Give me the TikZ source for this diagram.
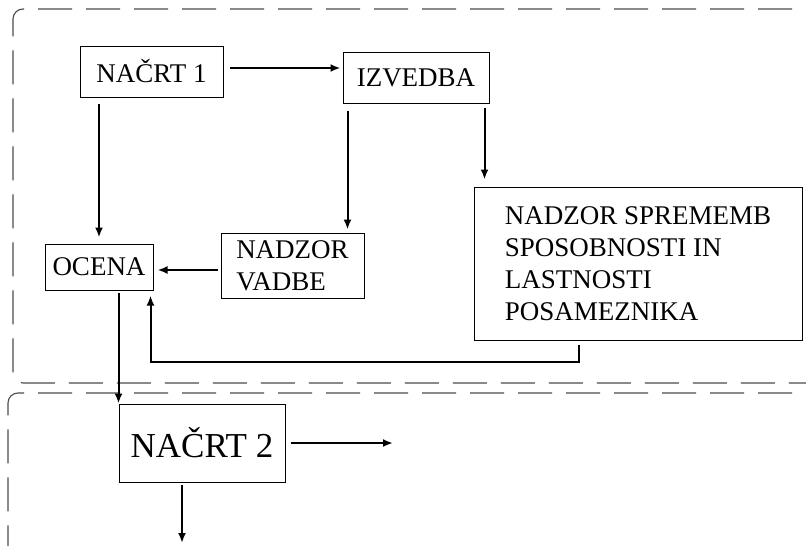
\documentclass[tikz,border=0pt]{standalone}
\usepackage{fontspec}
\setmainfont{Liberation Serif}
\usetikzlibrary{arrows.meta}

\begin{document}
\begin{tikzpicture}[x=1pt,y=-1pt,
  box/.style={draw,line width=1pt,align=left,inner sep=0pt,font=\fontsize{27}{32}\selectfont},
  arr/.style={line width=2pt,-{Latex[length=10pt,width=8pt]}},
  frame/.style={draw=black!70,line width=1.1pt,dash pattern=on 34pt off 14pt,rounded corners=10pt}]
\clip (0,0) rectangle (806,546);
\fill[white] (0,0) rectangle (806,546);
% dashed frames
\draw[frame] (840,9) -- (13,9) -- (13,383) -- (840,383);
\draw[frame] (840,393) -- (8,393) -- (8,580);
% boxes
\node[box,minimum width=143pt,minimum height=51pt] (nacrt1) at (151.5,71.5) {NAČRT 1};
\node[box,minimum width=146pt,minimum height=51pt] (izvedba) at (416,77.5) {IZVEDBA};
\node[box,minimum width=108pt,minimum height=46pt] (ocena) at (99,267) {OCENA};
\node[box,minimum width=143pt,minimum height=65pt] (vadba) at (292.5,265.5) {NADZOR\\VADBE};
\node[box,minimum width=328pt,minimum height=153pt] (spremembe) at (638,263.5)
  {NADZOR SPREMEMB\\SPOSOBNOSTI IN\\LASTNOSTI\\POSAMEZNIKA};
\node[box,minimum width=166pt,minimum height=78pt,font=\fontsize{35}{40}\selectfont] (nacrt2) at (202,443) {NAČRT 2};
\coordinate (izhod1) at (393,443);
\coordinate (izhod2) at (182,543);
% connectors
\draw[arr,shorten <=6pt,shorten >=2pt] ([yshift=3.5pt]nacrt1.east) -- ([yshift=3.5pt]nacrt1.east -| izvedba.west);
\draw[arr,shorten <=6pt,shorten >=6pt] (ocena.north |- nacrt1.south) -- (ocena.north);
\draw[arr,shorten <=7pt,shorten >=3pt] ([xshift=5pt]izvedba.south west) -- ([xshift=5pt]izvedba.south west |- vadba.north);
\draw[arr,shorten <=4pt,shorten >=7pt] ([xshift=-5pt]izvedba.south east) -- ([xshift=-5pt]izvedba.south east |- spremembe.north);
\draw[arr,shorten <=3pt,shorten >=4pt] ([yshift=-4.5pt]vadba.west) -- ([yshift=-4.5pt]vadba.west -| ocena.east);
\draw[arr,shorten <=4pt,shorten >=5pt] ([xshift=-59pt]spremembe.south) -- ++(0,21) -| ([xshift=-3pt]ocena.south east);
\draw[arr,shorten <=2pt] (ocena.south -| nacrt2.north west) -- (nacrt2.north west);
\draw[arr,shorten <=5pt] (nacrt2.east) -- (izhod1);
\draw[arr,shorten <=2pt] ([xshift=-20pt]nacrt2.south) -- (izhod2);
\end{tikzpicture}
\end{document}
